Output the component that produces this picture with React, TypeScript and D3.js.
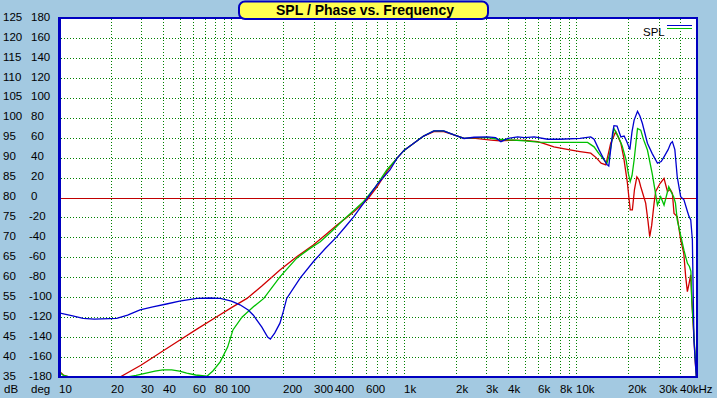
import * as d3 from "d3";
import { useEffect, useRef } from "react";

// [frequency Hz, level dB]
const redSpl: [number, number][] = [
  [10, 36.5], [10.6, 35.5], [11.5, 35.0], [22.6, 35.0], [30, 38.0], [40, 41.5], [50, 44.2], [63, 47.0],
  [80, 49.8], [100, 52.4], [123, 54.7], [150, 57.8], [191, 61.8], [240, 65.2], [298, 68.1], [350, 70.6],
  [409, 73.1], [460, 74.8], [512, 76.4], [560, 77.9], [612, 79.4], [700, 82.7], [795, 86.5], [910, 89.8],
  [1000, 91.8], [1140, 93.6], [1300, 95.4], [1490, 96.5], [1700, 96.5], [1950, 95.7], [2230, 94.8],
  [2600, 94.8], [3200, 94.4], [3600, 94.2], [4300, 94.4], [5000, 94.3], [5950, 94.0], [6500, 93.5],
  [7400, 92.7], [9000, 92.0], [10500, 91.5], [12100, 91.1], [13000, 90.0], [13900, 88.6], [14800, 88.2],
  [15800, 93.6], [16900, 96.5], [18100, 93.6], [18800, 90.0], [19700, 84.0], [20500, 76.9], [21100, 76.9],
  [21700, 82.0], [22400, 85.2], [23000, 84.5], [23600, 82.7], [25200, 78.6], [26000, 74.0], [26600, 70.2],
  [27300, 73.0], [28200, 78.6], [28800, 81.5], [30500, 83.5], [32200, 84.8], [33000, 83.0], [33700, 81.5],
  [35000, 82.0], [36000, 81.0], [36800, 76.0], [38400, 75.2], [40200, 69.4], [41900, 66.0], [43000, 60.1],
  [43970, 56.4], [45000, 58.5], [45950, 60.6], [47000, 51.8], [48000, 44.7], [49000, 38.0], [49600, 35.0],
];

const greenSpl: [number, number][] = [
  [10, 36.3], [10.6, 35.4], [11.5, 35.0], [25, 35.0], [28, 35.4], [32, 36.0], [36, 36.5], [40, 36.8],
  [45, 36.8], [50, 36.5], [55, 36.0], [62, 35.5], [72, 35.2], [78, 36.5], [86, 38.8], [95, 42.5],
  [102, 46.8], [115, 50.0], [134, 52.6], [154, 54.7], [191, 60.1], [239, 64.8], [280, 67.0], [327, 68.9],
  [380, 71.5], [446, 74.4], [510, 76.7], [584, 79.0], [680, 82.5], [795, 86.9], [910, 89.8], [1000, 91.8],
  [1140, 93.6], [1300, 95.4], [1490, 96.7], [1700, 96.7], [1950, 95.7], [2230, 94.8], [2550, 95.0],
  [3050, 95.0], [3500, 94.6], [4300, 94.4], [5000, 94.2], [6000, 93.9], [7400, 93.8], [9000, 93.8],
  [11600, 93.8], [12650, 92.7], [13500, 91.0], [14500, 89.4], [15000, 88.5], [15600, 91.0], [16500, 97.3],
  [17500, 95.2], [18400, 93.0], [19400, 89.4], [20000, 86.0], [20500, 84.0], [21000, 85.5], [21600, 89.4],
  [22600, 97.3], [23600, 96.9], [24500, 94.5], [25800, 91.9], [27500, 86.0], [28500, 82.0], [29500, 78.1],
  [30800, 80.2], [32200, 78.1], [34300, 82.7], [35300, 81.5], [36600, 80.2], [37500, 78.6], [38400, 74.4],
  [40200, 70.5], [42000, 66.8], [44000, 63.5], [45200, 62.7], [46100, 61.5], [46600, 54.3], [47600, 48.0],
  [48500, 42.0], [49600, 35.0],
];

const blueSpl: [number, number][] = [
  [10, 51.1], [12, 50.3], [13.8, 49.7], [16, 49.5], [21.6, 49.7], [25, 50.5], [29.5, 51.8], [35, 52.6],
  [42, 53.3], [50, 54.0], [63, 54.7], [75, 54.8], [86, 54.7], [100, 54.0], [112, 53.1], [125, 51.8],
  [134, 50.5], [150, 47.5], [162, 45.0], [168, 44.5], [178, 46.0], [191, 48.5], [200, 51.5], [209, 54.7],
  [250, 59.8], [298, 63.9], [350, 67.2], [409, 70.2], [460, 72.8], [512, 75.2], [560, 77.5], [612, 79.8],
  [700, 83.3], [830, 86.9], [910, 89.8], [1000, 91.8], [1140, 93.6], [1300, 95.4], [1490, 96.7],
  [1700, 96.7], [1950, 95.7], [2230, 94.8], [2550, 95.1], [3050, 95.2], [3400, 95.0], [3650, 94.0],
  [4000, 94.8], [4560, 95.2], [5000, 95.0], [5700, 95.2], [6800, 94.6], [8000, 94.6], [10500, 94.8],
  [12100, 95.2], [12650, 94.6], [13500, 92.0], [14500, 89.4], [15000, 88.3], [15400, 87.9], [16200, 96.1],
  [16500, 98.0], [17200, 97.9], [18100, 95.2], [18900, 95.4], [19600, 94.0], [20400, 92.0], [21000, 96.5],
  [21600, 99.4], [22600, 101.6], [23300, 100.5], [24100, 98.6], [25800, 93.6], [27500, 91.0], [29500, 88.6],
  [31000, 89.0], [32200, 90.2], [34000, 92.0], [35200, 93.6], [36000, 94.0], [37200, 92.0], [38400, 85.2],
  [40200, 80.2], [42000, 79.4], [44000, 76.5], [45000, 75.2], [46000, 74.4], [47000, 69.4], [47600, 54.3],
  [48000, 44.3], [49100, 37.6], [49600, 35.0],
];

const dbLabels = [125, 120, 115, 110, 105, 100, 95, 90, 85, 80, 75, 70, 65, 60, 55, 50, 45, 40, 35];
const degLabels = [180, 160, 140, 120, 100, 80, 60, 40, 20, 0, -20, -40, -60, -80, -100, -120, -140, -160, -180];
const freqTicks = [10, 20, 30, 40, 60, 80, 100, 200, 300, 400, 600, 1000, 2000, 3000, 4000, 6000, 8000, 10000, 20000, 30000, 40000];
const freqLabels = ["10", "20", "30", "40", "60", "80", "100", "200", "300", "400", "600", "1k", "2k", "3k", "4k", "6k", "8k", "10k", "20k", "30k", "40kHz"];

const W = 717;
const H = 398;
const FONT = "'Liberation Sans', Arial, sans-serif";

export default function App() {
  const svgRef = useRef<SVGSVGElement>(null);

  useEffect(() => {
    const svg = d3.select(svgRef.current);
    svg.selectAll("*").remove();

    const x = d3.scaleLog().domain([10, 50000]).range([59, 697]);
    const y = d3.scaleLinear().domain([35, 125]).range([377, 18]);

    // background + plot area
    svg.append("rect").attr("width", W).attr("height", H).attr("fill", "#A3C9E1");
    svg.append("rect").attr("x", 59).attr("y", 18).attr("width", 638).attr("height", 359).attr("fill", "#fff");

    //GRID
    const grid = svg.append("g").attr("stroke", "#008000").attr("stroke-width", 1).attr("stroke-dasharray", "1,2");
    const minor: number[] = [];
    for (let dec = 10; dec <= 10000; dec *= 10) {
      for (let m = 1; m <= 9; m++) {
        const f = dec * m;
        if (f > 10 && f <= 40000) minor.push(f);
      }
    }
    grid.selectAll("line.v").data(minor).enter().append("line")
      .attr("x1", (d) => Math.round(x(d)) + 0.5).attr("x2", (d) => Math.round(x(d)) + 0.5)
      .attr("y1", 19).attr("y2", 376);
    grid.selectAll("line.h").data(dbLabels.filter((d) => d > 35 && d < 125 && d !== 80)).enter().append("line")
      .attr("x1", 61).attr("x2", 696)
      .attr("y1", (d) => Math.round(y(d)) + 0.5).attr("y2", (d) => Math.round(y(d)) + 0.5);

    // 0 deg / 80 dB reference line
    svg.append("line")
      .attr("x1", 61).attr("x2", 696)
      .attr("y1", Math.round(y(80)) + 0.5).attr("y2", Math.round(y(80)) + 0.5)
      .attr("stroke", "#C00000").attr("stroke-width", 1);

    //CURVES
    svg.append("clipPath").attr("id", "plotClip")
      .append("rect").attr("x", 59).attr("y", 18).attr("width", 638).attr("height", 359);
    const line = d3.line<[number, number]>().x((d) => x(d[0])).y((d) => y(d[1]));
    const curves = svg.append("g").attr("clip-path", "url(#plotClip)").attr("fill", "none").attr("stroke-width", 1.3);
    curves.append("path").attr("d", line(redSpl)).attr("stroke", "#D00000");
    curves.append("path").attr("d", line(greenSpl)).attr("stroke", "#00C000");
    curves.append("path").attr("d", line(blueSpl)).attr("stroke", "#0000D0");

    // plot border
    const border = svg.append("g").attr("fill", "#0000C0");
    border.append("rect").attr("x", 58).attr("y", 17).attr("width", 3).attr("height", 361);
    border.append("rect").attr("x", 58).attr("y", 17).attr("width", 640).attr("height", 2);
    border.append("rect").attr("x", 696).attr("y", 17).attr("width", 2).attr("height", 361);
    border.append("rect").attr("x", 58).attr("y", 376).attr("width", 640).attr("height", 2);

    //AXIS LABELS
    const labels = svg.append("g").attr("font-family", FONT).attr("font-size", 11.5).attr("fill", "#000");
    labels.selectAll("text.db").data(dbLabels).enter().append("text")
      .attr("x", 3).attr("y", (d) => y(d) + 2.7).text((d) => d);
    labels.selectAll("text.deg").data(degLabels).enter().append("text")
      .attr("x", (d) => (d < 0 ? 29 : 31)).attr("y", (d, i) => y(dbLabels[i]) + 2.7).text((d) => d);
    labels.append("text").attr("x", 4).attr("y", 393).text("dB");
    labels.append("text").attr("x", 31).attr("y", 393).text("deg");
    labels.selectAll("text.f").data(freqTicks).enter().append("text")
      .attr("x", (d) => Math.round(x(d))).attr("y", 393).text((d, i) => freqLabels[i]);

    //LEGEND
    labels.append("text").attr("x", 643).attr("y", 36).text("SPL");
    svg.append("line").attr("x1", 667).attr("x2", 692).attr("y1", 25.5).attr("y2", 25.5).attr("stroke", "#0000D0");
    svg.append("line").attr("x1", 667).attr("x2", 692).attr("y1", 28.5).attr("y2", 28.5).attr("stroke", "#00C000");

    //TITLE
    svg.append("rect").attr("x", 239).attr("y", 1.5).attr("width", 249).attr("height", 17.5).attr("rx", 6)
      .attr("fill", "#FFFF50").attr("stroke", "#0000C0").attr("stroke-width", 2);
    svg.append("text").attr("x", 365).attr("y", 15).attr("text-anchor", "middle")
      .attr("font-family", FONT).attr("font-size", 14).attr("font-weight", "bold")
      .text("SPL / Phase vs. Frequency");
  }, []);

  return (
    <div style={{ position: "absolute", left: 0, top: 0 }}>
      <svg ref={svgRef} width={W} height={H} style={{ display: "block" }} />
    </div>
  );
}
